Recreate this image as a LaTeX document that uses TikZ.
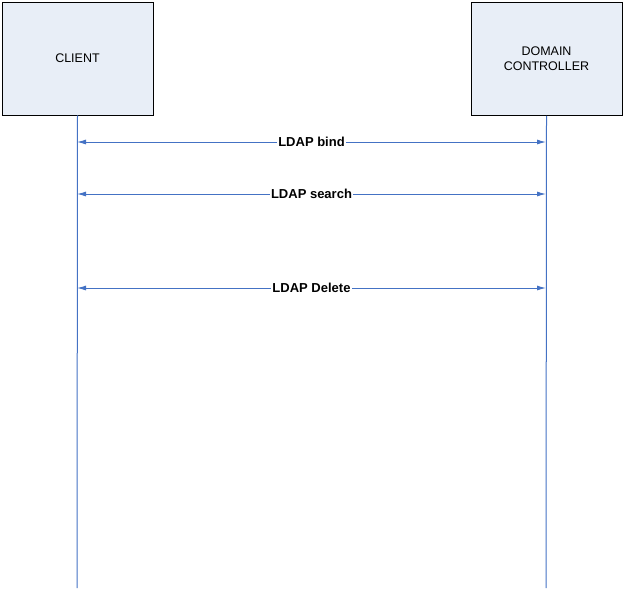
\documentclass[tikz,border=0pt]{standalone}
\usepackage{fontspec}
\setmainfont{Liberation Sans}
\usepackage{tikz}
\usetikzlibrary{arrows.meta}
\definecolor{boxfill}{RGB}{232,238,247}
\definecolor{msgblue}{RGB}{68,114,196}

\begin{document}
\begin{tikzpicture}[x=1pt,y=-1pt]

\tikzset{actor/.style = {draw, thick, fill=boxfill, minimum width=151pt, minimum height=113pt, inner sep=0pt, align=center, font=\fontsize{12.5}{15}\selectfont}}
\tikzset{life/.style = {msgblue, line width=1pt}}
\tikzset{msg/.style = {{Latex[length=9pt,width=5pt]}-{Latex[length=9pt,width=5pt]}, msgblue, line width=1pt}}
\tikzset{label/.style = {fill=white, inner sep=1pt, text=black, font=\bfseries\fontsize{13}{15}\selectfont}}
\useasboundingbox (0,0) rectangle (628,590);
\node[actor] (client) at (77.5,58.5) {CLIENT};
\node[actor] (dc) at (546.5,59) {DOMAIN\\CONTROLLER};
\coordinate (cend) at (77,588);
\coordinate (dend) at (546,588);
\draw[life] (client.south) -- (cend);
\draw[life] (dc.south) -- (dend);

\coordinate (c1) at (77,142);
\coordinate (d1) at (546,142);
\coordinate (c2) at (77,194);
\coordinate (d2) at (546,194);
\coordinate (c3) at (77,288);
\coordinate (d3) at (546,288);
\draw[msg] (c1) -- node[label] {LDAP bind} (d1);
\draw[msg] (c2) -- node[label] {LDAP search} (d2);
\draw[msg] (c3) -- node[label] {LDAP Delete} (d3);
\end{tikzpicture}
\end{document}
